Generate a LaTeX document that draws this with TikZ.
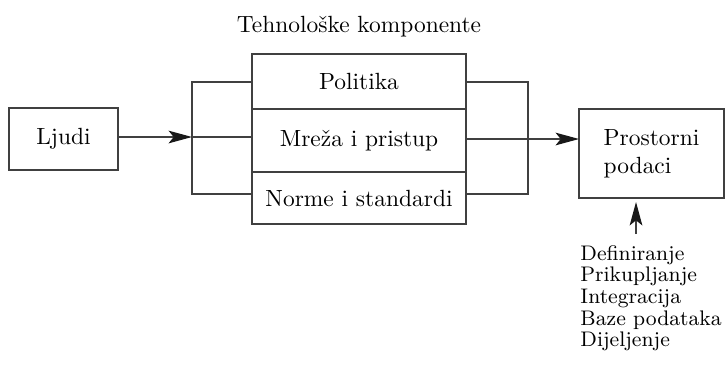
\documentclass[tikz,border=0pt]{standalone}
\usetikzlibrary{arrows.meta,positioning}

\tikzset{
	box/.style={draw=black!75, line width=0.5pt, inner sep=0pt, outer sep=0pt, align=center},
	link/.style={draw=black!75, line width=0.5pt},
	arr/.style={link, -{Stealth[length=10pt,width=5.4pt,inset=2.2pt,color=black!90]}}
}

\begin{document}
\begin{tikzpicture}[x=0.015cm, y=-0.015cm]
			%\draw[help lines] (0,0) grid[step=50] (725,382);
			\useasboundingbox (0,0) rectangle (725,382);

			\node (title) at (359,27) {Tehnološke komponente};

			\node[box, minimum width=214*0.015cm, minimum height=55*0.015cm] (pol) at (359,81.5) {Politika};
			\node[box, minimum width=214*0.015cm, minimum height=63*0.015cm] (mre) at (359,140.5) {Mreža i pristup};
			\node[box, minimum width=214*0.015cm, minimum height=52*0.015cm] (nor) at (359,198) {Norme i standardi};

			\node[box, minimum width=109*0.015cm, minimum height=62*0.015cm] (ljudi) at (63.5,139) {Ljudi};
			\node[box, align=left, minimum width=145*0.015cm, minimum height=89*0.015cm] (pro) at (651.5,153.5) {Prostorni\\podaci};

			\coordinate (lb1) at (192,82);
			\coordinate (lb2) at (192,137);
			\coordinate (lb3) at (192,194);
			\coordinate (rb1) at (528,82);
			\coordinate (rb2) at (528,139);
			\coordinate (rb3) at (528,194);

			% lijeva zagrada
			\draw[link] (pol.west |- lb1) -- (lb1) -- (lb3) -- (nor.west |- lb3);
			\draw[link] (mre.west |- lb2) -- (lb2);
			\draw[arr] (ljudi.east |- lb2) -- (lb2);

			% desna zagrada
			\draw[link] (pol.east |- rb1) -- (rb1) -- (rb3) -- (nor.east |- rb3);
			\draw[arr] (mre.east |- rb2) -- (pro.west |- rb2);

			\node[align=left, anchor=north west, inner sep=0pt, font={\fontsize{9}{9.2}\selectfont}] (faze) at (580,245)
				{Definiranje\\Prikupljanje\\Integracija\\Baze podataka\\Dijeljenje};
			\coordinate (src) at (636,234);
			\draw[arr, shorten >=4*0.015cm] (src) -- (src |- pro.south);
\end{tikzpicture}
\end{document}
